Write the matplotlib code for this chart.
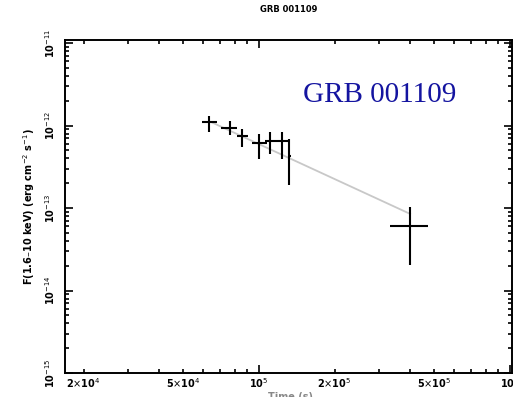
import numpy as np
import matplotlib
matplotlib.use("Agg")
import matplotlib.pyplot as plt
from matplotlib.ticker import LogLocator, FixedLocator, FuncFormatter, NullFormatter

# X-ray afterglow light curve of GRB 001109 (1.6-10 keV)
time_s = [6.33e4, 7.66e4, 8.55e4, 1.00e5, 1.107e5, 1.236e5, 1.318e5, 4.00e5]
time_lo = [5.93e4, 7.06e4, 8.17e4, 9.38e4, 1.057e5, 1.18e5, 1.30e5, 3.33e5]
time_hi = [6.81e4, 8.17e4, 9.03e4, 1.08e5, 1.18e5, 1.33e5, 1.34e5, 4.71e5]
flux = [1.117e-12, 9.46e-13, 7.37e-13, 6.07e-13, 6.59e-13, 6.41e-13, 4.23e-13, 6.07e-14]
flux_lo = [8.47e-13, 7.58e-13, 5.43e-13, 3.89e-13, 4.48e-13, 3.89e-13, 1.89e-13, 2.06e-14]
flux_hi = [1.32e-12, 1.148e-12, 9.2e-13, 7.8e-13, 8.24e-13, 8.47e-13, 6.78e-13, 1.03e-13]

# power-law decay model segment
model_t = [6.5e4, 4.0e5]
model_f = [1.09e-12, 8.5e-14]

x_labels = {2e4: r"2$\times$10$^{4}$", 5e4: r"5$\times$10$^{4}$", 1e5: r"10$^{5}$",
            2e5: r"2$\times$10$^{5}$", 5e5: r"5$\times$10$^{5}$", 1e6: r"10$^{6}$"}
y_labels = {1e-11: r"10$^{-11}$", 1e-12: r"10$^{-12}$", 1e-13: r"10$^{-13}$",
            1e-14: r"10$^{-14}$", 1e-15: r"10$^{-15}$"}

t = np.array(time_s)
f = np.array(flux)
xerr = np.vstack([t - np.array(time_lo), np.array(time_hi) - t])
yerr = np.vstack([f - np.array(flux_lo), np.array(flux_hi) - f])

fig = plt.figure(figsize=(5.13, 3.97), dpi=100)
ax = fig.add_axes([65 / 513, 1 - 373 / 397, 447 / 513, 333 / 397])

ax.plot(model_t, model_f, color="#c8c8c8", lw=1.3, zorder=1)
ax.errorbar(t, f, xerr=xerr, yerr=yerr, fmt="none", ecolor="black",
            elinewidth=1.5, capsize=0, zorder=2)

ax.set_xscale("log")
ax.set_yscale("log")
ax.set_xlim(1.687e4, 1.019e6)
ax.set_ylim(1.0e-15, 1.09e-11)

# x ticks: decades major, 2..9 minor with labels on 2 and 5
ax.xaxis.set_major_locator(LogLocator(base=10, numticks=10))
ax.xaxis.set_minor_locator(LogLocator(base=10, subs=np.arange(2, 10), numticks=20))


def xfmt(v, pos):
    for key, lab in x_labels.items():
        if abs(v / key - 1) < 1e-6:
            return lab
    return ""


def yfmt(v, pos):
    for key, lab in y_labels.items():
        if abs(v / key - 1) < 1e-6:
            return lab
    return ""


ax.xaxis.set_major_formatter(FuncFormatter(xfmt))
ax.xaxis.set_minor_formatter(FuncFormatter(xfmt))

ax.yaxis.set_major_locator(FixedLocator(list(y_labels.keys())))
ax.yaxis.set_minor_locator(LogLocator(base=10, subs=np.arange(2, 10), numticks=20))
ax.yaxis.set_major_formatter(FuncFormatter(yfmt))
ax.yaxis.set_minor_formatter(NullFormatter())

ax.tick_params(which="both", direction="in", top=True, right=True,
               width=1.2, colors="black", labelsize=7)
ax.tick_params(which="major", length=6)
ax.tick_params(which="minor", length=3)
ax.tick_params(axis="x", which="both", pad=2)
ax.tick_params(axis="y", which="both", pad=6)
for lab in ax.get_xticklabels(which="both"):
    lab.set_fontweight("bold")
for lab in ax.get_yticklabels():
    lab.set_rotation(90)
    lab.set_va("center")
    lab.set_fontweight("bold")

for s in ax.spines.values():
    s.set_linewidth(1.4)

ax.set_title("GRB 001109", fontsize=6, fontweight="bold", pad=20)
ax.set_ylabel(r"F(1.6–10 keV) (erg cm$^{-2}$ s$^{-1}$)", fontsize=7,
              fontweight="bold", labelpad=4)
fig.text(290 / 513, 0.012, "Time (s)", fontsize=7, fontweight="bold",
         ha="center", va="top", color="#888888")

ax.text(0.533, 0.814, "GRB 001109", transform=ax.transAxes,
        fontsize=21, family="Liberation Serif", color="#1414a0",
        ha="left", va="baseline")

fig.savefig("out.png", dpi=100)
